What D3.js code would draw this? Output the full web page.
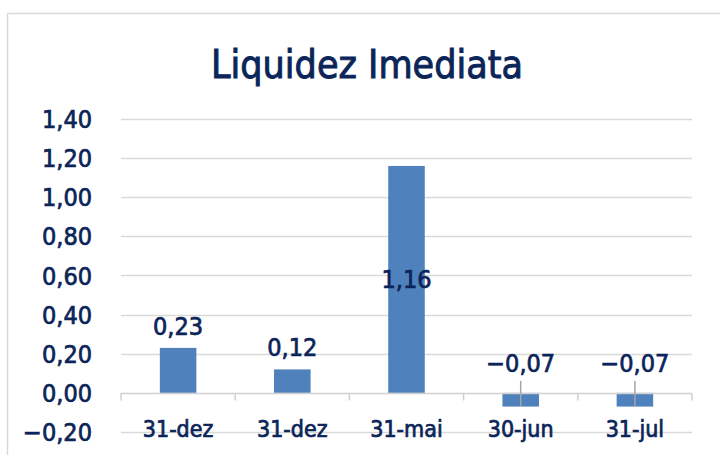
<!DOCTYPE html>
<html>
<head>
<meta charset="utf-8">
<script src="https://cdn.jsdelivr.net/npm/d3@7"></script>
<style>
  body { margin: 0; background: #fff; }
  svg text {
    font-family: "DejaVu Sans Condensed", "DejaVu Sans", sans-serif;
    fill: #0b2559;
    stroke: #0b2559;
    stroke-width: 0.7px;
  }
</style>
</head>
<body>
<div id="chart"></div>
<script>
var categories = ["31-dez", "31-dez", "31-mai", "30-jun", "31-jul"];
var values = [0.23, 0.12, 1.16, -0.07, -0.07];
var yTicks = [-0.2, 0, 0.2, 0.4, 0.6, 0.8, 1.0, 1.2, 1.4];
var title = "Liquidez Imediata";

var width = 720, height = 455;
var fmt = function (v) { return d3.format(".2f")(v).replace(".", ",").replace("-", "\u2013"); };

var svg = d3.select("#chart").append("svg")
  .attr("width", width)
  .attr("height", height);

// chart frame
svg.append("rect")
  .attr("x", 7.5).attr("y", 13.5)
  .attr("width", 730).attr("height", 460)
  .attr("fill", "none")
  .attr("stroke", "#d9d9d9")
  .attr("stroke-width", 1.5);

svg.append("text")
  .attr("x", 367).attr("y", 78)
  .attr("text-anchor", "middle")
  .style("font-size", "39px")
  .style("stroke-width", "0.9px")
  .text(title);

var idx = d3.range(categories.length);
var x = d3.scaleBand()
  .domain(idx)
  .range([121, 692])
  .paddingInner(0.68)
  .paddingOuter(0.34);
var step = x.step();

var y = d3.scaleLinear()
  .domain([-0.2, 1.4])
  .range([432, 119]);

// gridlines
svg.append("g").selectAll("line")
  .data(yTicks.filter(function (d) { return d !== 0; }))
  .enter().append("line")
    .attr("x1", 121).attr("x2", 692)
    .attr("y1", function (d) { return Math.round(y(d)) + 0.5; })
    .attr("y2", function (d) { return Math.round(y(d)) + 0.5; })
    .attr("stroke", "#d9d9d9")
    .attr("stroke-width", 1.5);

// y labels
svg.append("g").selectAll("text")
  .data(yTicks)
  .enter().append("text")
    .attr("x", 92)
    .attr("y", function (d) { return y(d); })
    .attr("dy", "0.36em")
    .attr("text-anchor", "end")
    .style("font-size", "25px")
    .text(fmt);

// bars
svg.append("g").selectAll("rect")
  .data(values)
  .enter().append("rect")
    .attr("x", function (d, i) { return x(i); })
    .attr("width", x.bandwidth())
    .attr("y", function (d) { return y(Math.max(0, d)); })
    .attr("height", function (d) { return Math.abs(y(d) - y(0)); })
    .attr("fill", "#4f81bd");

// zero axis with ticks
var y0 = Math.round(y(0)) + 0.5;
svg.append("line")
  .attr("x1", 121).attr("x2", 692)
  .attr("y1", y0).attr("y2", y0)
  .attr("stroke", "#d0d0d0")
  .attr("stroke-width", 1.5);
svg.append("g").selectAll("line")
  .data(d3.range(categories.length + 1))
  .enter().append("line")
    .attr("x1", function (d) { return 121 + d * step; })
    .attr("x2", function (d) { return 121 + d * step; })
    .attr("y1", y0).attr("y2", y0 + 7)
    .attr("stroke", "#d0d0d0")
    .attr("stroke-width", 1.5);

// leader lines for negative labels
svg.append("g").selectAll("line")
  .data(values.map(function (v, i) { return {v: v, i: i}; }).filter(function (d) { return d.v < 0; }))
  .enter().append("line")
    .attr("x1", function (d) { return x(d.i) + x.bandwidth() / 2; })
    .attr("x2", function (d) { return x(d.i) + x.bandwidth() / 2; })
    .attr("y1", y(0) - 12)
    .attr("y2", function (d) { return y(d.v); })
    .attr("stroke", "#a6a6a6")
    .attr("stroke-width", 1.5);

// data labels
svg.append("g").selectAll("text")
  .data(values)
  .enter().append("text")
    .attr("x", function (d, i) { return x(i) + x.bandwidth() / 2; })
    .attr("y", function (d) {
      if (d < 0) { return y(0) - 21; }
      if (d > 1) { return (y(d) + y(0)) / 2 + 9; }
      return y(d) - 13;
    })
    .attr("text-anchor", "middle")
    .style("font-size", "25px")
    .text(fmt);

// category labels
svg.append("g").selectAll("text")
  .data(categories)
  .enter().append("text")
    .attr("x", function (d, i) { return x(i) + x.bandwidth() / 2; })
    .attr("y", 437)
    .attr("text-anchor", "middle")
    .style("font-size", "23px")
    .text(function (d) { return d; });
</script>
</body>
</html>
